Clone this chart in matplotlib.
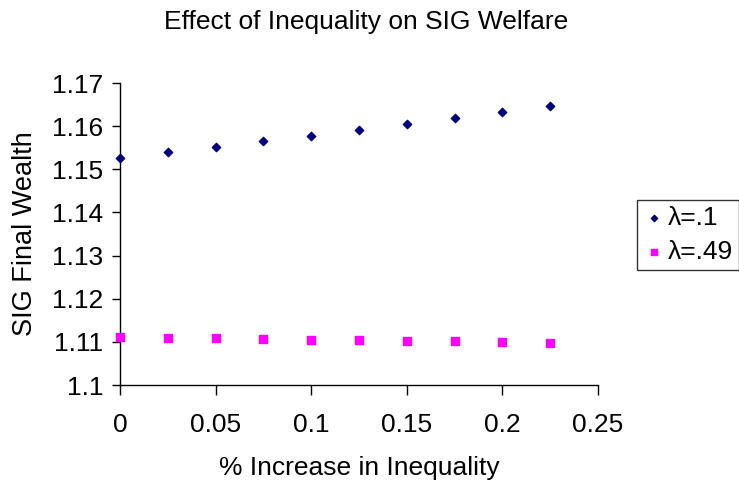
import matplotlib
matplotlib.use("Agg")
import matplotlib.pyplot as plt

plt.rcParams['font.family'] = ['Liberation Sans', 'DejaVu Sans']

x = [0, 0.025, 0.05, 0.075, 0.1, 0.125, 0.15, 0.175, 0.2, 0.225]
lam_01 = [1.1526, 1.1539, 1.1552, 1.1565, 1.1577, 1.1591, 1.1605, 1.1619, 1.1633, 1.1647]
lam_049 = [1.1112, 1.1110, 1.1109, 1.1107, 1.1105, 1.1104, 1.1102, 1.1101, 1.1099, 1.1098]
xticks = [0, 0.05, 0.1, 0.15, 0.2, 0.25]
xticklabels = ['0', '0.05', '0.1', '0.15', '0.2', '0.25']
yticks = [1.1, 1.11, 1.12, 1.13, 1.14, 1.15, 1.16, 1.17]
yticklabels = ['1.1', '1.11', '1.12', '1.13', '1.14', '1.15', '1.16', '1.17']

W, H = 739, 484
fig = plt.figure(figsize=(W/100, H/100), dpi=100)
ax = fig.add_axes([120/W, 1 - 385/H, (598-120)/W, (385-83)/H])

ax.scatter(x, lam_01, marker='D', s=18, color='#000080', label='λ=.1', clip_on=False, zorder=3)
ax.scatter(x, lam_049, marker='s', s=26, color='#FF00FF', label='λ=.49', clip_on=False, zorder=3)

ax.set_xlim(0, 0.25)
ax.set_ylim(1.1, 1.17)
ax.set_xticks(xticks)
ax.set_xticklabels(xticklabels)
ax.set_yticks(yticks)
ax.set_yticklabels(yticklabels)
ax.spines['top'].set_visible(False)
ax.spines['right'].set_visible(False)
for s in ['left', 'bottom']:
    ax.spines[s].set_linewidth(1.0)
ax.tick_params(axis='y', direction='out', length=6, width=1.0, labelsize=19, pad=6)
ax.tick_params(axis='x', direction='out', length=7, width=1.0, labelsize=19, pad=13)

ax.set_xlabel('% Increase in Inequality', fontsize=19, labelpad=14)
ax.set_ylabel('SIG Final Wealth', fontsize=19.5, labelpad=10)
fig.text(366/W, 1 - 22/H, 'Effect of Inequality on SIG Welfare', ha='center', va='center', fontsize=19)

leg = ax.legend(loc='center left', bbox_to_anchor=(637/W, 1 - 235/H), bbox_transform=fig.transFigure,
                fontsize=19, frameon=True, fancybox=False, edgecolor='black', handletextpad=0.1,
                borderpad=0.25, labelspacing=0.35, handlelength=0.8, markerscale=0.75, borderaxespad=0)
leg.get_frame().set_linewidth(1.0)

fig.savefig('out.png', dpi=100)
